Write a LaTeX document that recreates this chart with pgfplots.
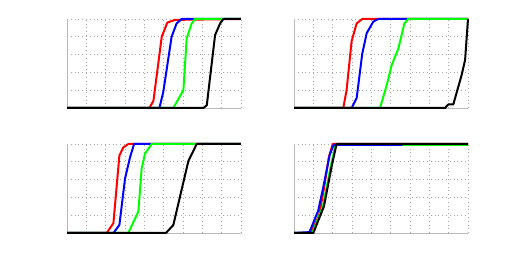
\documentclass[border=0pt]{standalone}
\usepackage{pgfplots}
\pgfplotsset{compat=1.18}
\definecolor{pgreen}{rgb}{0,1,0}
\pgfplotsset{
  myax/.style={
    width=174pt, height=89pt, scale only axis,
    xmin=0, xmax=9, ymin=0, ymax=1,
    xtick={0,1,...,9}, ytick={0,0.2,0.4,0.6,0.8,1},
    xticklabels={}, yticklabels={},
    major tick length=0pt, tick style={draw=none},
    axis x line*=bottom, axis y line*=left,
    axis line style={gray!55, line width=0.8pt},
    grid=major, grid style={gray!70, dash pattern=on 0.8pt off 3pt, line width=0.6pt},
    clip=false,
    every axis plot/.append style={line width=2pt, line join=round},
    anchor=south west,
  }
}
\begin{document}
\begin{tikzpicture}[x=1pt,y=1pt]
\path (0,0) rectangle (517,261);
% top-left
\begin{axis}[myax, at={(67pt,153pt)}]
\addplot[red] coordinates {(0,0) (4.26,0) (4.47,0.08) (4.90,0.80) (5.19,0.96) (5.59,0.99) (9,1)};
\addplot[blue] coordinates {(0,0) (4.78,0) (4.98,0.18) (5.41,0.80) (5.67,0.95) (5.93,1) (9,1)};
\addplot[pgreen] coordinates {(0,0) (5.50,0) (6.02,0.20) (6.19,0.78) (6.45,0.95) (6.62,1) (9,1)};
\addplot[black] coordinates {(0,0) (7.05,0) (7.23,0.03) (7.66,0.82) (7.92,0.95) (8.09,1) (9,1)};
\end{axis}
% top-right
\begin{axis}[myax, at={(294pt,153pt)}]
\addplot[red] coordinates {(0,0) (2.55,0) (2.72,0.20) (2.98,0.75) (3.24,0.95) (3.53,1) (9,1)};
\addplot[blue] coordinates {(0,0) (2.98,0) (3.24,0.11) (3.53,0.61) (3.76,0.84) (4.10,0.97) (4.36,1) (9,1)};
\addplot[pgreen] coordinates {(0,0) (4.45,0) (4.80,0.26) (5.05,0.48) (5.40,0.67) (5.71,0.95) (5.91,1) (9,1)};
\addplot[black] coordinates {(0,0) (7.81,0) (7.98,0.04) (8.24,0.04) (8.67,0.37) (8.85,0.54) (9,1)};
\end{axis}
% bottom-left
\begin{axis}[myax, at={(67pt,28pt)}]
\addplot[red] coordinates {(0,0) (2.05,0) (2.40,0.11) (2.71,0.87) (2.91,0.96) (3.17,1) (9,1)};
\addplot[blue] coordinates {(0,0) (2.40,0) (2.71,0.09) (3.00,0.61) (3.26,0.85) (3.47,1) (9,1)};
\addplot[pgreen] coordinates {(0,0) (3.17,0) (3.69,0.24) (3.86,0.72) (4.03,0.89) (4.38,1) (9,1)};
\addplot[black] coordinates {(0,0) (5.12,0) (5.50,0.09) (6.28,0.81) (6.71,1) (9,1)};
\end{axis}
% bottom-right
\begin{axis}[myax, at={(294pt,28pt)}]
\addplot[red] coordinates {(0,0) (0.85,0) (1.30,0.20) (1.55,0.50) (1.80,0.85) (2.00,1) (9,1)};
\addplot[pgreen] coordinates {(0,0) (0.95,0) (1.50,0.30) (1.90,0.75) (2.15,0.99) (9,0.99)};
\addplot[blue] coordinates {(0,0) (0.80,0.01) (1.25,0.25) (1.50,0.50) (1.85,0.88) (2.05,0.99) (5.6,0.99)};
\addplot[black] coordinates {(0,0) (1.00,0) (1.55,0.30) (1.95,0.75) (2.20,1) (9,1)};
\end{axis}
\end{tikzpicture}
\end{document}
